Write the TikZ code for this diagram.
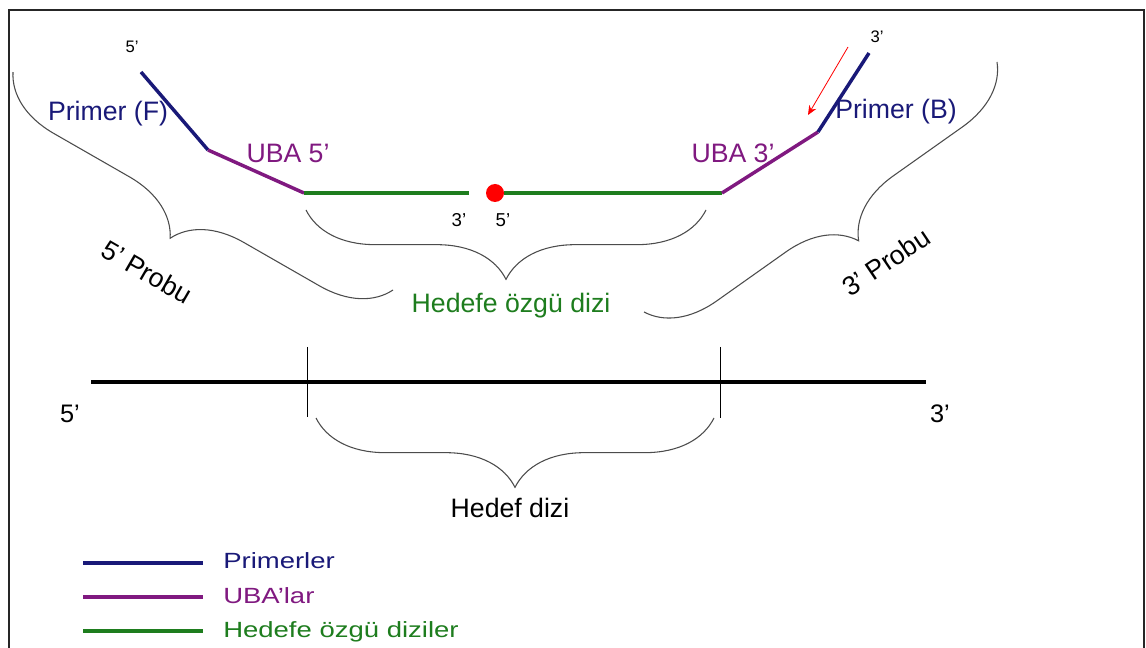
\documentclass[tikz,border=0pt]{standalone}
\usepackage{fontspec}
\usepackage{graphicx}
\setmainfont{Liberation Sans}
\usetikzlibrary{decorations.pathreplacing,arrows.meta}
\definecolor{navy}{RGB}{25,25,120}
\definecolor{uba}{RGB}{128,25,128}
\definecolor{hg}{RGB}{30,125,30}
\begin{document}
\begin{tikzpicture}[x=0.75pt,y=-0.75pt,
  strand/.style={line width=2.6pt},
  thinline/.style={line width=0.75pt, black},
  bracestyle/.style={draw=black!70, line width=0.8pt, decorate,
    decoration={brace, amplitude=#1}},
  lbl/.style={font=\fontsize{20}{23}\selectfont, inner sep=0pt, anchor=base},
  smalllbl/.style={font=\fontsize{12.5}{14}\selectfont, inner sep=0pt, anchor=base},
  gaplbl/.style={font=\fontsize{14}{16}\selectfont, inner sep=0pt, anchor=base},
  probelbl/.style={font=\fontsize{20}{23}\selectfont, inner sep=0pt},
  leg/.style={font=\fontsize{16.5}{19}\selectfont, inner sep=0pt, anchor=base west}]
\useasboundingbox (0,0) rectangle (1146,648);
\clip (0,0) rectangle (1146,648);
\fill[white] (0,0) rectangle (1146,648);
\draw[line width=1.6pt, black!85] (9,10) rectangle (1144,680);

% probe strands
\coordinate (f0) at (141,72);
\coordinate (f1) at (208,150);
\coordinate (f2) at (304,193);
\coordinate (g1) at (469,193);
\node[circle, fill=red, inner sep=0pt, minimum size=13.5pt] (dot) at (495,193) {};
\coordinate (g3) at (722,193);
\coordinate (b1) at (818,132);
\coordinate (b0) at (869,53);
\draw[strand, navy] (f0) -- (f1);
\draw[strand, uba] (f1) -- (f2);
\draw[strand, hg] (f2) -- (g1);
\draw[strand, hg] (dot) -- (g3);
\draw[strand, uba] (g3) -- (b1);
\draw[strand, navy] (b1) -- (b0);

% red arrow
\coordinate (ra) at (848,47);
\coordinate (rb) at (808,115);
\draw[red, line width=0.6pt, -{Stealth[length=7pt,width=6pt]}] (ra) -- (rb);

% labels on probe
\node[smalllbl] (t5) at (132,53) {5’};
\node[smalllbl] (t3) at (877,43) {3’};
\node[lbl, navy] (pf) at (108,121) {Primer (F)};
\node[lbl, uba] (u5) at (288,163) {UBA 5’};
\node[lbl, uba] (u3) at (733,163) {UBA 3’};
\node[lbl, navy] (pb) at (896,119) {Primer (B)};
\node[gaplbl] (g3l) at (459,227) {3’};
\node[gaplbl] (g5l) at (503,227) {5’};

% braces
\draw[bracestyle=49.5pt] (393,290) -- (13,72);
\draw[bracestyle=49.5pt] (997,62) -- (644,312);
\draw[bracestyle=52pt] (706,210) -- (306,210);
\node[lbl, hg] (hoz) at (511,313) {Hedefe özgü dizi};
\node[probelbl, rotate=-30] (p5) at (147,272) {5’ Probu};
\node[probelbl, rotate=34] (p3) at (886,262) {3’ Probu};

% target strand
\coordinate (a0) at (91,382);
\coordinate (a1) at (926,382);
\draw[line width=2.8pt, black] (a0) -- (a1);
\coordinate (v1t) at (307,347);
\coordinate (v1b) at (307,417);
\coordinate (v2t) at (720,347);
\coordinate (v2b) at (720,418);
\draw[thinline] (v1t) -- (v1b);
\draw[thinline] (v2t) -- (v2b);
\node[lbl, font=\fontsize{19}{22}\selectfont] (e5) at (70,422) {5’};
\node[lbl, font=\fontsize{19}{22}\selectfont] (e3) at (940,422) {3’};
\draw[bracestyle=52pt] (714,418) -- (316,418);
\node[lbl] (hd) at (510,517) {Hedef dizi};

% legend
\coordinate (l1a) at (83,563); \coordinate (l1b) at (203,563);
\coordinate (l2a) at (83,597); \coordinate (l2b) at (203,597);
\coordinate (l3a) at (83,631); \coordinate (l3b) at (203,631);
\draw[strand, navy] (l1a) -- (l1b);
\draw[strand, uba] (l2a) -- (l2b);
\draw[strand, hg] (l3a) -- (l3b);
\node[leg, navy] (lt1) at (223,568) {\scalebox{1.25}[1]{Primerler}};
\node[leg, uba] (lt2) at (223,603) {\scalebox{1.25}[1]{UBA’lar}};
\node[leg, hg] (lt3) at (223,637) {\scalebox{1.25}[1]{Hedefe özgü diziler}};
\end{tikzpicture}
\end{document}
